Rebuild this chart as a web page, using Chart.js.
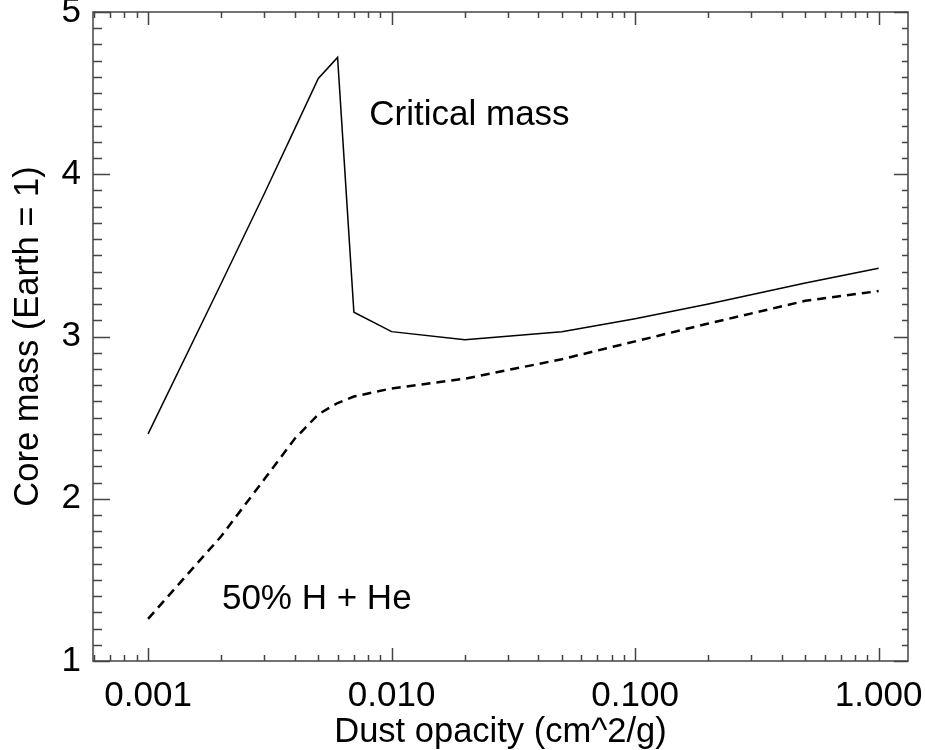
<!DOCTYPE html>
<html>
<head>
<meta charset="utf-8">
<script src="https://cdn.jsdelivr.net/npm/chart.js@4"></script>
<style>
    body { margin: 0; background: #fff; }
    #wrap { width: 925px; height: 750px; }
</style>
</head>
<body>
<div id="wrap"><canvas id="massChart"></canvas></div>
<script>
const opacity = [0.001, 0.002, 0.003, 0.004, 0.005, 0.006, 0.007, 0.01, 0.02, 0.05, 0.1, 0.2, 0.5, 1.0];
const criticalMass = [2.40, 3.33, 3.88, 4.28, 4.59, 4.72, 3.15, 3.03, 2.98, 3.03, 3.11, 3.20, 3.33, 3.42];
const halfHHe = [1.26, 1.77, 2.12, 2.37, 2.52, 2.59, 2.63, 2.68, 2.74, 2.86, 2.97, 3.08, 3.22, 3.28];

const xTicks = [0.001, 0.01, 0.1, 1];
const yTicks = [1, 2, 3, 4, 5];

const labels = [
    { text: 'Critical mass', x: 0.0081, y: 4.36 },
    { text: '50% H + He', x: 0.00201, y: 1.38 }
];

const font = 'Liberation Sans, Arial, Helvetica, sans-serif';

const toPoints = ys => opacity.map((x, i) => ({ x, y: ys[i] }));

// box round the plot with inward ticks, like the old IDL plots
const boxTicks = {
    id: 'boxTicks',
    afterDraw(chart) {
        const { ctx, chartArea: a, scales: { x, y } } = chart;
        ctx.save();
        ctx.strokeStyle = '#444';
        ctx.lineWidth = 1.5;
        ctx.strokeRect(a.left, a.top, a.right - a.left, a.bottom - a.top);
        ctx.beginPath();
        for (let d = -4; d <= 0; d++) {
            for (let m = 1; m <= 9; m++) {
                const v = m * Math.pow(10, d);
                if (v < x.min || v > x.max) continue;
                const px = Math.round(x.getPixelForValue(v)) + 0.5;
                const len = m === 1 ? 13 : 6;
                ctx.moveTo(px, a.bottom); ctx.lineTo(px, a.bottom - len);
                ctx.moveTo(px, a.top); ctx.lineTo(px, a.top + len);
            }
        }
        for (let i = 0; i <= 40; i++) {
            const v = 1 + i / 10;
            const py = Math.round(y.getPixelForValue(v)) + 0.5;
            const major = i % 10 === 0;
            ctx.moveTo(a.left, py); ctx.lineTo(a.left + (major ? 17 : 9), py);
            ctx.moveTo(a.right, py); ctx.lineTo(a.right - (major ? 14 : 6), py);
        }
        ctx.stroke();

        ctx.fillStyle = '#000';
        ctx.font = '35px ' + font;
        ctx.textBaseline = 'middle';
        labels.forEach(l => {
            ctx.fillText(l.text, x.getPixelForValue(l.x), y.getPixelForValue(l.y));
        });
        ctx.restore();
    }
};

new Chart(document.getElementById('massChart'), {
    type: 'line',
    data: {
        datasets: [{
            label: 'Critical mass',
            data: toPoints(criticalMass),
            borderColor: '#000',
            borderWidth: 1.5,
            pointRadius: 0,
            tension: 0
        }, {
            label: '50% H + He',
            data: toPoints(halfHHe),
            borderColor: '#000',
            borderWidth: 2.5,
            borderDash: [9, 6],
            pointRadius: 0,
            tension: 0
        }]
    },
    options: {
        animation: false,
        responsive: true,
        maintainAspectRatio: false,
        layout: { padding: { left: 10, right: 17, top: 12, bottom: 0 } },
        plugins: {
            legend: { display: false },
            tooltip: { enabled: false }
        },
        scales: {
            x: {
                type: 'logarithmic',
                min: 0.000594,
                max: 1.32,
                grid: { display: false, drawTicks: false },
                border: { display: false },
                afterBuildTicks: s => { s.ticks = xTicks.map(value => ({ value })); },
                afterFit: s => {
                    s.height = 89;
                    s.paddingLeft = 0;
                    s.paddingRight = 0;
                },
                ticks: {
                    autoSkip: false,
                    maxRotation: 0,
                    padding: 14,
                    color: '#000',
                    font: { family: font, size: 35 },
                    callback: v => Number(v).toFixed(3)
                },
                title: {
                    display: true,
                    text: 'Dust opacity (cm^2/g)',
                    color: '#000',
                    padding: 0,
                    font: { family: font, size: 34.5, lineHeight: 1 }
                }
            },
            y: {
                min: 1,
                max: 5,
                grid: { display: false, drawTicks: false },
                border: { display: false },
                afterBuildTicks: s => { s.ticks = yTicks.map(value => ({ value })); },
                afterFit: s => {
                    s.width = 83;
                    s.paddingTop = 0;
                    s.paddingBottom = 0;
                },
                ticks: {
                    padding: 12,
                    color: '#000',
                    font: { family: font, size: 35 }
                },
                title: {
                    display: true,
                    text: 'Core mass (Earth = 1)',
                    color: '#000',
                    padding: 0,
                    font: { family: font, size: 34.5, lineHeight: 1.05 }
                }
            }
        }
    },
    plugins: [boxTicks]
});
</script>
</body>
</html>
